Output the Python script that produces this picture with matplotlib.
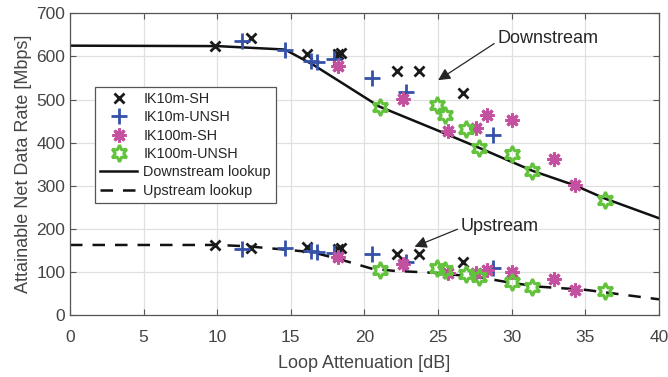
import numpy as np
import matplotlib
matplotlib.use('Agg')
import matplotlib.pyplot as plt

plt.rcParams['font.family'] = ['Liberation Sans', 'DejaVu Sans']

# lookup curves
ds_x = [0, 10, 14.6, 16.5, 18.5, 21, 25, 27.8, 31.4, 34.3, 36.3, 40]
ds_y = [625, 624, 616, 581, 538, 484, 428, 388, 335, 301, 271, 225]
us_x = [0, 10, 12, 15, 16.5, 18.5, 20.5, 22, 25, 28, 30, 32, 35, 40]
us_y = [163, 163, 160, 151, 146, 128, 108, 103, 98, 87, 75, 66, 59, 37]

# measurements
sh10_x = [9.85, 12.3, 16.1, 18.2, 18.4, 22.2, 23.7, 26.7]
sh10_ds = [624, 643, 606, 606, 609, 566, 566, 515]
sh10_us = [163, 157, 159, 153, 155, 143, 141, 124]

unsh10_x = [11.7, 14.6, 16.4, 16.8, 17.9, 20.5, 22.8, 28.7]
unsh10_ds = [636, 616, 590, 586, 594, 549, 518, 417]
unsh10_us = [154, 155, 148, 146, 145, 141, 124, 109]

sh100_x = [18.2, 22.6, 25.7, 27.6, 28.35, 30.0, 32.9, 34.3]
sh100_ds = [578, 501, 427, 435, 465, 452, 362, 302]
sh100_us = [134, 119, 97, 97, 105, 101, 83, 59]

unsh100_x = [21.06, 24.95, 25.5, 26.9, 27.8, 30.05, 31.4, 36.3]
unsh100_ds = [483, 487, 464, 432, 387, 373, 335, 268]
unsh100_us = [105, 109, 105, 95, 89, 78, 66, 56]

txt = '#454545'
blue = '#3552a8'
mag = '#c4519f'
green = '#62c23c'

fig = plt.figure(figsize=(6.68, 3.77), dpi=100)
ax = fig.add_axes([0.1048, 0.1637, 0.8817, 0.801])

ax.plot(sh10_x, sh10_ds, 'x', color='#1a1a1a', ms=6.5, mew=2, label='IK10m-SH', zorder=3)
ax.plot(sh10_x, sh10_us, 'x', color='#1a1a1a', ms=6.5, mew=2, zorder=3)
ax.plot(unsh10_x, unsh10_ds, '+', color=blue, ms=12, mew=2, label='IK10m-UNSH', zorder=3)
ax.plot(unsh10_x, unsh10_us, '+', color=blue, ms=12, mew=2, zorder=3)
ax.plot(sh100_x, sh100_ds, marker=(8, 2, 0), ls='none', color=mag, ms=10, mew=2.2, label='IK100m-SH', zorder=3)
ax.plot(sh100_x, sh100_us, marker=(8, 2, 0), ls='none', color=mag, ms=10, mew=2.2, zorder=3)
ax.plot(unsh100_x, unsh100_ds, marker=(6, 1, 0), ls='none', mfc='none', mec=green, ms=12, mew=2.2, label='IK100m-UNSH', zorder=3)
ax.plot(unsh100_x, unsh100_us, marker=(6, 1, 0), ls='none', mfc='none', mec=green, ms=12, mew=2.2, zorder=3)

ax.plot(ds_x, ds_y, '-', color='#111111', lw=1.8, label='Downstream lookup', zorder=2)
ax.plot(us_x, us_y, '--', color='#111111', lw=1.8, dashes=(5, 4), label='Upstream lookup', zorder=2)

ax.annotate('Downstream', xy=(25.0, 545), xytext=(29.0, 642), fontsize=13, color='#262626',
            va='center', ha='left',
            arrowprops=dict(arrowstyle='-|>', color='#262626', lw=0.9, mutation_scale=18,
                            shrinkA=0, shrinkB=0, relpos=(0, 0.3)))
ax.annotate('Upstream', xy=(23.4, 159), xytext=(26.5, 206), fontsize=13, color='#262626',
            va='center', ha='left',
            arrowprops=dict(arrowstyle='-|>', color='#262626', lw=0.9, mutation_scale=18,
                            shrinkA=0, shrinkB=0, relpos=(0, 0.4)))

ax.set_xlim(0, 40)
ax.set_ylim(0, 700)
ax.set_xticks(np.arange(0, 41, 5))
ax.set_yticks(np.arange(0, 701, 100))
ax.grid(True, color='#e0e0e0', lw=0.9)
ax.set_axisbelow(True)
ax.tick_params(direction='in', top=True, right=True, colors='#555555', labelcolor=txt,
               labelsize=12.5, length=4)
ax.tick_params(axis='x', pad=10.5)
for s in ax.spines.values():
    s.set_color('#555555')
    s.set_linewidth(0.9)

ax.set_xlabel('Loop Attenuation [dB]', fontsize=13, color=txt, labelpad=7.5)
ax.set_ylabel('Attainable Net Data Rate [Mbps]', fontsize=13, color=txt, labelpad=3)

leg = ax.legend(loc='upper left', bbox_to_anchor=(0.042, 0.756), fontsize=10.4,
                handlelength=2.6, handletextpad=0.4, labelspacing=0.3,
                borderpad=0.35, fancybox=False, edgecolor='#555555', framealpha=1,
                borderaxespad=0)
leg.get_frame().set_linewidth(0.9)
for t in leg.get_texts():
    t.set_color('#262626')

fig.savefig('out.png', dpi=100)
